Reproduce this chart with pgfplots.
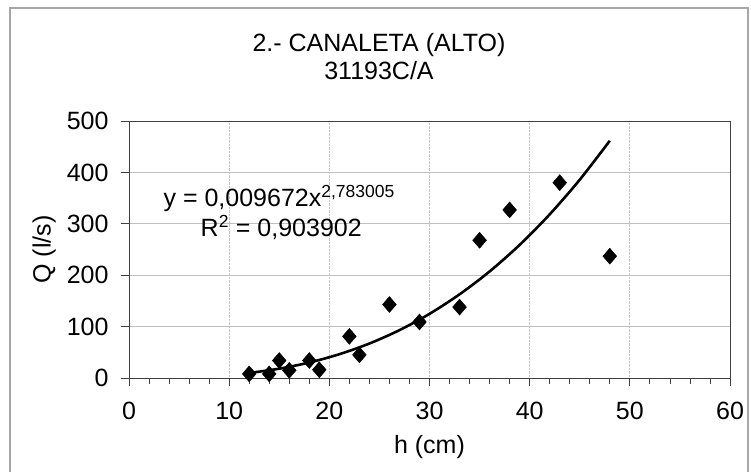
\documentclass[border=0pt]{standalone}
\usepackage{pgfplots}
\pgfplotsset{compat=1.18}
\usepackage{fontspec}
\setmainfont{Liberation Sans}

\pgfplotstableread{
h   Q
12  8
14  8
15  34
16  15
18  34
19  16
22  81
23  45
26  143
29  109
33  138
35  268
38  327
43  380
48  237
}\medidas

% potential trend line, values at the fit y = 0,009672 x^2,783005
\pgfplotstableread{
h   Q
12  9.75
15  18.14
18  30.13
21  46.27
24  67.09
27  93.10
30  124.8
33  162.8
36  207.3
39  259.0
42  318.4
45  385.8
48  461.6
}\ajuste

\begin{document}
\begin{tikzpicture}
\path[use as bounding box] (0,0) rectangle (751pt,472pt);
% chart frame
\draw[gray!70, line width=1.5pt] (10pt,0pt) -- (10pt,464pt) -- (748pt,464pt) -- (748pt,0pt);

\node[font=\fontsize{25}{30}\selectfont] at (379pt,427pt) {2.- CANALETA (ALTO)};
\node[font=\fontsize{25}{30}\selectfont] at (379pt,401pt) {31193C/A};

\begin{axis}[
    at={(129pt,94pt)}, anchor=south west,
    scale only axis,
    width=601pt, height=257pt,
    xmin=0, xmax=60, ymin=0, ymax=500,
    xtick={0,10,...,60},
    ytick={0,100,...,500},
    minor x tick num=4,
    xmajorgrids, ymajorgrids,
    x grid style={gray!45, densely dotted, line width=0.8pt},
    y grid style={gray!50, line width=0.8pt},
    axis line style={black!75, line width=1pt},
    tick style={black!75, line width=0.8pt},
    tick align=outside,
    major tick length=8pt, minor tick length=6pt,
    xtick pos=bottom, ytick pos=left,
    /pgf/number format/assume math mode=true,
    tick label style={font=\fontsize{25}{30}\selectfont},
    xticklabel style={yshift=-13pt},
    yticklabel style={xshift=-9pt},
    xlabel={h (cm)},
    ylabel={Q (l/s)},
    every axis x label/.style={at={(axis description cs:0.5,-0.27)}, anchor=center,
        font=\fontsize{25}{30}\selectfont},
    every axis y label/.style={at={(axis description cs:-0.141,0.5)}, rotate=90, anchor=center,
        font=\fontsize{25}{30}\selectfont},
    clip=false,
]
\addplot[black, line width=2.6pt, smooth] table[x=h, y=Q] {\ajuste};
\addplot[only marks, mark=diamond*, mark size=8pt, mark options={xscale=1.15}, black] table[x=h, y=Q] {\medidas};
\node[font=\fontsize{25}{30}\selectfont] at (axis cs:15.0,350) {y = 0,009672x\textsuperscript{2,783005}};
\node[font=\fontsize{25}{30}\selectfont] at (axis cs:15.2,293) {R\textsuperscript{2} = 0,903902};
\end{axis}
\end{tikzpicture}
\end{document}
